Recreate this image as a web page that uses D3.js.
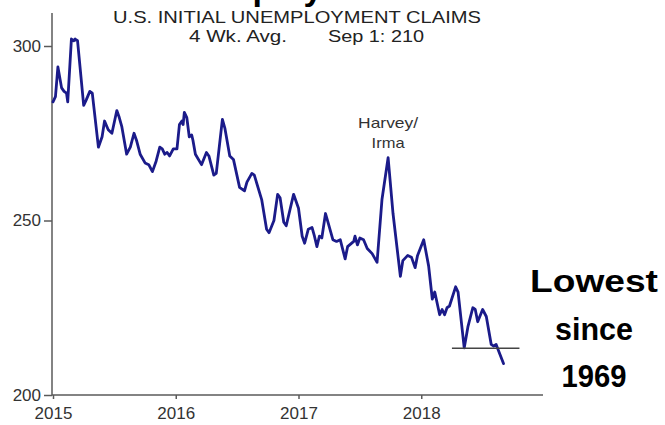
<!DOCTYPE html>
<html>
<head>
<meta charset="utf-8">
<script src="https://cdn.jsdelivr.net/npm/d3@7"></script>
<style>
  body { margin: 0; background: #fff; }
  text { font-family: "Liberation Sans", Arial, sans-serif; }
</style>
</head>
<body>
<div id="chart"></div>
<script>
// weekly 4 wk avg of initial claims (thousands)
const years = [
  2015.00, 2015.02, 2015.04, 2015.07, 2015.09, 2015.11, 2015.12, 2015.15, 2015.17, 2015.18,
  2015.20, 2015.25, 2015.27, 2015.30, 2015.32, 2015.37, 2015.40, 2015.42, 2015.45, 2015.48,
  2015.52, 2015.54, 2015.56, 2015.60, 2015.63, 2015.66, 2015.68, 2015.71, 2015.75, 2015.78,
  2015.81, 2015.84, 2015.87, 2015.89, 2015.91, 2015.93, 2015.95, 2015.98, 2016.01, 2016.03,
  2016.05, 2016.06, 2016.07, 2016.09, 2016.11, 2016.13, 2016.14, 2016.16, 2016.21, 2016.25,
  2016.27, 2016.31, 2016.33, 2016.38, 2016.40, 2016.44, 2016.47, 2016.52, 2016.56, 2016.58,
  2016.62, 2016.64, 2016.70, 2016.74, 2016.76, 2016.80, 2016.83, 2016.85, 2016.88, 2016.90,
  2016.93, 2016.96, 2017.00, 2017.03, 2017.05, 2017.08, 2017.11, 2017.13, 2017.15, 2017.17,
  2017.19, 2017.22, 2017.24, 2017.28, 2017.31, 2017.34, 2017.38, 2017.40, 2017.45, 2017.46,
  2017.48, 2017.50, 2017.53, 2017.56, 2017.60, 2017.64, 2017.68, 2017.73, 2017.77, 2017.83,
  2017.85, 2017.89, 2017.92, 2017.95, 2017.97, 2018.02, 2018.06, 2018.09, 2018.11, 2018.15,
  2018.17, 2018.19, 2018.21, 2018.23, 2018.28, 2018.30, 2018.35, 2018.38, 2018.42, 2018.44,
  2018.46, 2018.50, 2018.53, 2018.57, 2018.59, 2018.61, 2018.67
];
const claims = [
  284, 285.5, 294, 288, 287, 286.5, 284, 302, 301.5, 302,
  301.5, 283, 284.5, 287, 286.5, 271, 274, 278.5, 276, 275,
  281.5, 279.5, 277, 269, 271, 275, 273, 269, 266.5, 266,
  264, 267, 271, 270.5, 269, 269.5, 268.5, 270.5, 270.5, 277.5,
  278.5, 277.5, 281, 279.5, 274, 274.5, 273, 269, 266, 269.5,
  268.5, 263, 263.5, 279, 276.5, 268.5, 267.5, 259.5, 258.5, 261,
  263.5, 263, 256, 247.5, 246.5, 250, 257.5, 256.5, 249.5, 248.5,
  253, 257.5, 253.5, 245.5, 243.5, 247.5, 248, 245.5, 242.5, 245.5,
  245, 252, 249.5, 244.5, 244, 244.5, 239, 242.5, 244, 245.5,
  243, 245, 244.5, 242, 240.5, 238, 256, 268, 252, 234,
  238.5, 240, 239.5, 236.5, 240, 244.5, 237, 227.5, 229.5, 223,
  224.5, 223, 225, 225.5, 231, 229.5, 213.5, 219.5, 225, 224.5,
  221, 224.5, 222.5, 214.5, 214, 214.5, 209
];

const xTicks = [2015, 2016, 2017, 2018];
const yTicks = [200, 250, 300];
const lowLevel = 213.4;
const lowSpan = [2018.25, 2018.80];
const peakYear = 2017.73, peakValue = 268;

const titleLines = ["U.S. INITIAL UNEMPLOYMENT CLAIMS"];
const subtitleParts = ["4 Wk. Avg.", "Sep 1: 210"];
const eventLabel = ["Harvey/", "Irma"];
const noteLines = ["Lowest", "since", "1969"];

const w = 665, h = 425;
const svg = d3.select("#chart").append("svg")
  .attr("width", w)
  .attr("height", h);

const xScale = d3.scaleLinear().domain([2015, 2019]).range([53, 544]);
const yScale = d3.scaleLinear().domain([200, 300]).range([395, 46]);

const axisColor = "#5a5a5a";

// heading of the slide, mostly cut off at the top
svg.append("text")
  .attr("x", 158)
  .attr("y", 0)
  .attr("font-size", 34)
  .attr("font-weight", "bold")
  .attr("fill", "#000")
  .text("Unemployment");

// y axis
const yAxis = svg.append("g")
  .attr("transform", `translate(52, 0)`)
  .call(d3.axisLeft(yScale).tickValues(yTicks).tickSize(8).tickPadding(3));
yAxis.select(".domain").remove();
yAxis.selectAll(".tick line").attr("stroke", axisColor).attr("stroke-width", 1.5);
yAxis.selectAll("text")
  .attr("font-size", 17)
  .attr("fill", "#333")
  .attr("font-family", "Liberation Sans, Arial, sans-serif");

// x axis
const xAxis = svg.append("g")
  .attr("transform", `translate(0, 395)`)
  .call(d3.axisBottom(xScale).tickValues(xTicks).tickFormat(d3.format("d")).tickSize(4).tickPadding(8));
xAxis.select(".domain").remove();
xAxis.selectAll(".tick line").attr("stroke", axisColor).attr("stroke-width", 1.5);
xAxis.selectAll("text")
  .attr("font-size", 17)
  .attr("fill", "#333")
  .attr("font-family", "Liberation Sans, Arial, sans-serif");

// axis lines
svg.append("line")
  .attr("x1", 52).attr("x2", 52)
  .attr("y1", 13).attr("y2", 395)
  .attr("stroke", axisColor).attr("stroke-width", 1.5);
svg.append("line")
  .attr("x1", 52).attr("x2", 543)
  .attr("y1", 395).attr("y2", 395)
  .attr("stroke", axisColor).attr("stroke-width", 1.5);

// the series
const data = years.map((yr, i) => ({ year: yr, value: claims[i] }));
const line = d3.line()
  .x(d => xScale(d.year))
  .y(d => yScale(d.value));

svg.append("path")
  .datum(data)
  .attr("d", line)
  .attr("fill", "none")
  .attr("stroke", "#1b1b8a")
  .attr("stroke-width", 2.8)
  .attr("stroke-linejoin", "round")
  .attr("stroke-linecap", "round");

// low mark
svg.append("line")
  .attr("x1", xScale(lowSpan[0])).attr("x2", xScale(lowSpan[1]))
  .attr("y1", yScale(lowLevel)).attr("y2", yScale(lowLevel))
  .attr("stroke", "#444").attr("stroke-width", 1.5);

// titles
svg.append("text")
  .attr("x", 113).attr("y", 23)
  .attr("font-size", 16.5)
  .attr("fill", "#222")
  .attr("textLength", 368)
  .attr("lengthAdjust", "spacingAndGlyphs")
  .text(titleLines[0]);

svg.append("text")
  .attr("x", 189).attr("y", 42)
  .attr("font-size", 16)
  .attr("fill", "#222")
  .attr("textLength", 98)
  .attr("lengthAdjust", "spacingAndGlyphs")
  .text(subtitleParts[0]);

svg.append("text")
  .attr("x", 328).attr("y", 42)
  .attr("font-size", 16)
  .attr("fill", "#222")
  .attr("textLength", 96)
  .attr("lengthAdjust", "spacingAndGlyphs")
  .text(subtitleParts[1]);

// Harvey / Irma note above the spike
const px = xScale(peakYear), py = yScale(peakValue);
const eventWidths = [60, 33];
eventLabel.forEach((t, i) => {
  svg.append("text")
    .attr("x", px - eventWidths[i] / 2)
    .attr("y", py - 30 + i * 20)
    .attr("font-size", 15)
    .attr("fill", "#333")
    .attr("textLength", eventWidths[i])
    .attr("lengthAdjust", "spacingAndGlyphs")
    .text(t);
});

// Lowest since 1969
const noteWidths = [128, 78, 65];
noteLines.forEach((t, i) => {
  svg.append("text")
    .attr("x", 594 - noteWidths[i] / 2)
    .attr("y", 292 + i * 47.5)
    .attr("font-size", 31)
    .attr("font-weight", "bold")
    .attr("fill", "#000")
    .attr("textLength", noteWidths[i])
    .attr("lengthAdjust", "spacingAndGlyphs")
    .text(t);
});
</script>
</body>
</html>
